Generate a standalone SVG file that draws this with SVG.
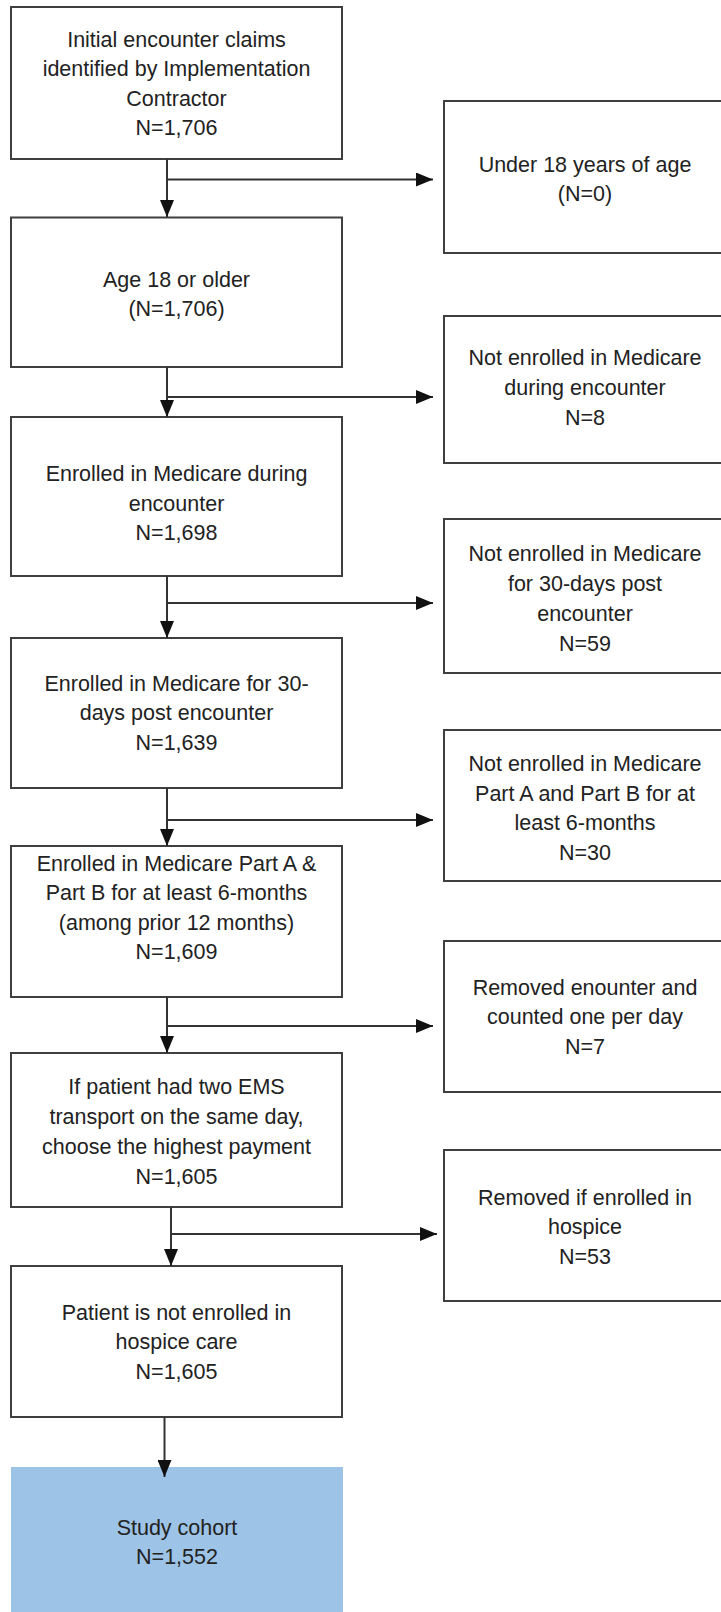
<svg xmlns="http://www.w3.org/2000/svg" width="721" height="1612" viewBox="0 0 721 1612">
<style>
  .box { fill: #ffffff; stroke: #3f3f3f; stroke-width: 2; }
  .final { fill: #9dc3e6; stroke: none; }
  .t { font-family: "Liberation Sans", Arial, sans-serif; font-size: 21.5px; fill: #222222; text-anchor: middle; }
  .ln { stroke: #333333; stroke-width: 2; fill: none; }
</style>
<defs>
  <marker id="ah" markerUnits="userSpaceOnUse" markerWidth="17" markerHeight="14" refX="17" refY="7" orient="auto">
    <path d="M0,0 L17,7 L0,14 z" fill="#111111"/>
  </marker>
</defs>
<rect width="721" height="1612" fill="#ffffff"/>

<g id="n1">
  <rect class="box" x="11" y="7" width="331" height="152"/>
  <text class="t" x="176.5" y="46.5">Initial encounter claims</text>
  <text class="t" x="176.5" y="76">identified by Implementation</text>
  <text class="t" x="176.5" y="105.5">Contractor</text>
  <text class="t" x="176.5" y="135">N=1,706</text>
</g>
<g id="x1">
  <rect class="box" x="444" y="101" width="300" height="152"/>
  <text class="t" x="585" y="171.5">Under 18 years of age</text>
  <text class="t" x="585" y="201">(N=0)</text>
</g>
<g id="n2">
  <rect class="box" x="11" y="217.5" width="331" height="149.5"/>
  <text class="t" x="176.5" y="286.5">Age 18 or older</text>
  <text class="t" x="176.5" y="315.5">(N=1,706)</text>
</g>
<g id="x2">
  <rect class="box" x="444" y="316" width="300" height="147"/>
  <text class="t" x="585" y="364.5">Not enrolled in Medicare</text>
  <text class="t" x="585" y="394.5">during encounter</text>
  <text class="t" x="585" y="424.5">N=8</text>
</g>
<g id="n3">
  <rect class="box" x="11" y="417" width="331" height="159"/>
  <text class="t" x="176.5" y="481">Enrolled in Medicare during</text>
  <text class="t" x="176.5" y="510.5">encounter</text>
  <text class="t" x="176.5" y="540">N=1,698</text>
</g>
<g id="x3">
  <rect class="box" x="444" y="519" width="300" height="154"/>
  <text class="t" x="585" y="560.5">Not enrolled in Medicare</text>
  <text class="t" x="585" y="590.5">for 30-days post</text>
  <text class="t" x="585" y="620.5">encounter</text>
  <text class="t" x="585" y="650.5">N=59</text>
</g>
<g id="n4">
  <rect class="box" x="11" y="638" width="331" height="150"/>
  <text class="t" x="176.5" y="690.5">Enrolled in Medicare for 30-</text>
  <text class="t" x="176.5" y="720">days post encounter</text>
  <text class="t" x="176.5" y="749.5">N=1,639</text>
</g>
<g id="x4">
  <rect class="box" x="444" y="730" width="300" height="151"/>
  <text class="t" x="585" y="770.5">Not enrolled in Medicare</text>
  <text class="t" x="585" y="800.5">Part A and Part B for at</text>
  <text class="t" x="585" y="830">least 6-months</text>
  <text class="t" x="585" y="859.5">N=30</text>
</g>
<g id="n5">
  <rect class="box" x="11" y="846" width="331" height="151"/>
  <text class="t" x="176.5" y="870.5">Enrolled in Medicare Part A &amp;</text>
  <text class="t" x="176.5" y="900">Part B for at least 6-months</text>
  <text class="t" x="176.5" y="929.5">(among prior 12 months)</text>
  <text class="t" x="176.5" y="959">N=1,609</text>
</g>
<g id="x5">
  <rect class="box" x="444" y="941" width="300" height="151"/>
  <text class="t" x="585" y="994.5">Removed enounter and</text>
  <text class="t" x="585" y="1024">counted one per day</text>
  <text class="t" x="585" y="1053.5">N=7</text>
</g>
<g id="n6">
  <rect class="box" x="11" y="1053" width="331" height="154"/>
  <text class="t" x="176.5" y="1093.5">If patient had two EMS</text>
  <text class="t" x="176.5" y="1124">transport on the same day,</text>
  <text class="t" x="176.5" y="1154">choose the highest payment</text>
  <text class="t" x="176.5" y="1184">N=1,605</text>
</g>
<g id="x6">
  <rect class="box" x="444" y="1150" width="300" height="151"/>
  <text class="t" x="585" y="1204.5">Removed if enrolled in</text>
  <text class="t" x="585" y="1234">hospice</text>
  <text class="t" x="585" y="1263.5">N=53</text>
</g>
<g id="n7">
  <rect class="box" x="11" y="1266" width="331" height="151"/>
  <text class="t" x="176.5" y="1319.5">Patient is not enrolled in</text>
  <text class="t" x="176.5" y="1349">hospice care</text>
  <text class="t" x="176.5" y="1379">N=1,605</text>
</g>
<g id="n8">
  <rect class="final" x="11" y="1467" width="332" height="150"/>
  <text class="t" x="177" y="1534.5">Study cohort</text>
  <text class="t" x="177" y="1563.5">N=1,552</text>
</g>

<g id="connectors">
  <line class="ln" x1="167" y1="159" x2="167" y2="217" marker-end="url(#ah)"/>
  <line class="ln" x1="167" y1="179.5" x2="433" y2="179.5" marker-end="url(#ah)"/>
  <line class="ln" x1="167" y1="367" x2="167" y2="417" marker-end="url(#ah)"/>
  <line class="ln" x1="167" y1="397" x2="433" y2="397" marker-end="url(#ah)"/>
  <line class="ln" x1="167" y1="576" x2="167" y2="638" marker-end="url(#ah)"/>
  <line class="ln" x1="167" y1="603" x2="433" y2="603" marker-end="url(#ah)"/>
  <line class="ln" x1="167" y1="788" x2="167" y2="846" marker-end="url(#ah)"/>
  <line class="ln" x1="167" y1="820" x2="433" y2="820" marker-end="url(#ah)"/>
  <line class="ln" x1="167" y1="997" x2="167" y2="1053" marker-end="url(#ah)"/>
  <line class="ln" x1="167" y1="1026" x2="433" y2="1026" marker-end="url(#ah)"/>
  <line class="ln" x1="171" y1="1207" x2="171" y2="1266" marker-end="url(#ah)"/>
  <line class="ln" x1="171" y1="1234" x2="437" y2="1234" marker-end="url(#ah)"/>
  <line class="ln" x1="164.5" y1="1417" x2="164.5" y2="1477" marker-end="url(#ah)"/>
</g>
</svg>
